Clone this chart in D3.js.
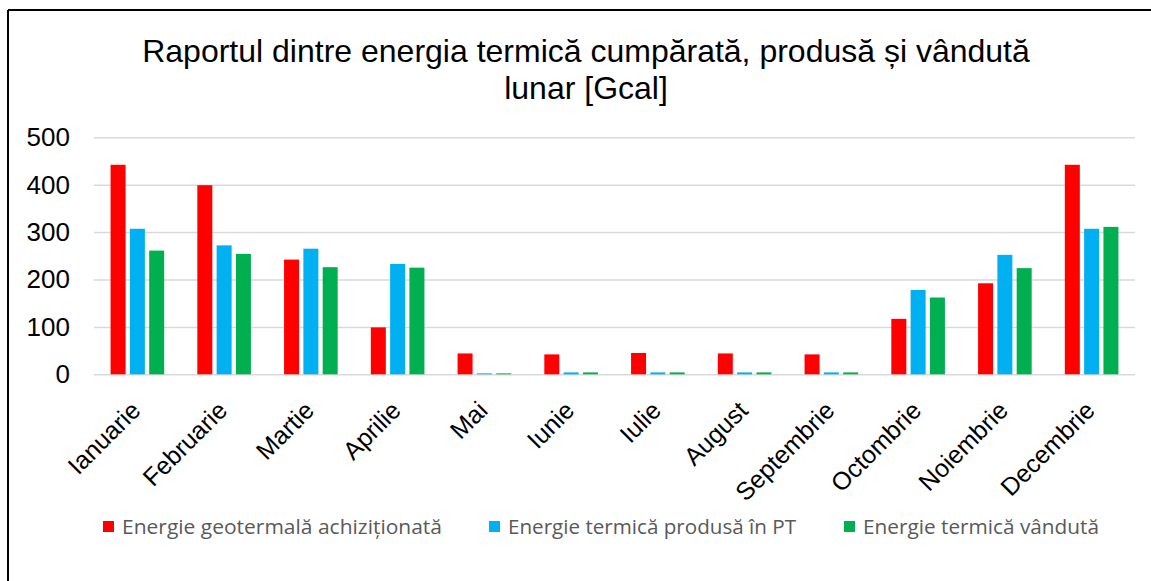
<!DOCTYPE html>
<html>
<head>
<meta charset="utf-8">
<script src="https://cdn.jsdelivr.net/npm/d3@7"></script>
<style>
  html, body { margin: 0; padding: 0; background: #fff; }
  svg { display: block; }
</style>
</head>
<body>
<svg id="chart" width="1151" height="581"></svg>
<script>
const months = ["Ianuarie","Februarie","Martie","Aprilie","Mai","Iunie","Iulie","August","Septembrie","Octombrie","Noiembrie","Decembrie"];
const seriesNames = ["Energie geotermală achiziționată","Energie termică produsă în PT","Energie termică vândută"];
const geotermala = [442, 399, 242, 99, 44, 42, 45, 44, 42, 117, 192, 442];
const produsa    = [307, 272, 265, 233, 2, 4, 4, 4, 4, 178, 252, 307];
const vanduta    = [261, 254, 226, 225, 2, 4, 4, 4, 4, 162, 224, 311];
const yTicks = [0, 100, 200, 300, 400, 500];
const titleLines = ["Raportul dintre energia termică cumpărată, produsă și vândută", "lunar [Gcal]"];
const colors = ["#ff0000", "#00b0f0", "#00b050"];

const seriesValues = [geotermala, produsa, vanduta];
const svg = d3.select("#chart");

// frame (cropped on right/bottom)
svg.append("line").attr("x1", 8).attr("y1", 10).attr("x2", 1151).attr("y2", 10)
  .attr("stroke", "#000").attr("stroke-width", 2);
svg.append("line").attr("x1", 8).attr("y1", 10).attr("x2", 8).attr("y2", 581)
  .attr("stroke", "#000").attr("stroke-width", 2);

// title
const title = svg.append("text")
  .attr("x", 586).attr("y", 62)
  .attr("text-anchor", "middle")
  .attr("font-family", "'Liberation Sans', Arial, sans-serif")
  .attr("font-size", 32)
  .attr("fill", "#000");
titleLines.forEach((t, i) => {
  title.append("tspan").attr("x", 586).attr("dy", i === 0 ? 0 : 37).text(t);
});

const plotLeft = 94, plotRight = 1135, plotTop = 137.3, plotBottom = 374.3;

const y = d3.scaleLinear().domain([0, 500]).range([plotBottom, plotTop]);
const x0 = d3.scaleBand().domain(months).range([plotLeft, plotRight])
  .paddingInner(0.382).paddingOuter(0.191);
const x1 = d3.scaleBand().domain(d3.range(seriesNames.length))
  .range([0, x0.bandwidth()]).paddingInner(0.223);

// gridlines via axis
const yAxis = d3.axisLeft(y).tickValues(yTicks).tickSize(-(plotRight - plotLeft)).tickPadding(24);
const gy = svg.append("g").attr("transform", `translate(${plotLeft},0)`).call(yAxis);
gy.select(".domain").remove();
gy.selectAll(".tick line").attr("stroke", "#d9d9d9").attr("stroke-width", 1.5);
gy.selectAll(".tick text")
  .attr("font-family", "'Liberation Sans', Arial, sans-serif")
  .attr("font-size", 26).attr("fill", "#000");

// bars
const groups = svg.append("g").selectAll("g")
  .data(months).join("g")
  .attr("transform", d => `translate(${x0(d)},0)`);
groups.selectAll("rect")
  .data((m, mi) => seriesValues.map((vals, si) => ({ si, v: vals[mi] })))
  .join("rect")
  .attr("x", d => x1(d.si))
  .attr("width", x1.bandwidth())
  .attr("y", d => y(d.v))
  .attr("height", d => y(0) - y(d.v))
  .attr("fill", d => colors[d.si]);

// x axis labels
const xAxis = d3.axisBottom(x0).tickSize(0).tickPadding(0);
const gx = svg.append("g").attr("transform", `translate(0,${plotBottom})`).call(xAxis);
gx.select(".domain").remove();
gx.selectAll(".tick text")
  .attr("font-family", "'Liberation Sans', Arial, sans-serif")
  .attr("font-size", 25).attr("fill", "#000")
  .attr("text-anchor", "end")
  .attr("dy", "0.72em")
  .attr("transform", "translate(-8,25) rotate(-45)");

// legend
const legendX = [103, 489, 844];
const legendW = [320, 288, 236];
const legend = svg.append("g");
seriesNames.forEach((name, i) => {
  legend.append("rect").attr("x", legendX[i]).attr("y", 521).attr("width", 11).attr("height", 11)
    .attr("fill", colors[i]);
  legend.append("text").attr("x", legendX[i] + 19).attr("y", 534)
    .attr("font-family", "'Open Sans', sans-serif").attr("font-size", 20)
    .attr("textLength", legendW[i]).attr("lengthAdjust", "spacingAndGlyphs")
    .attr("fill", "#595959").text(name);
});
</script>
</body>
</html>
